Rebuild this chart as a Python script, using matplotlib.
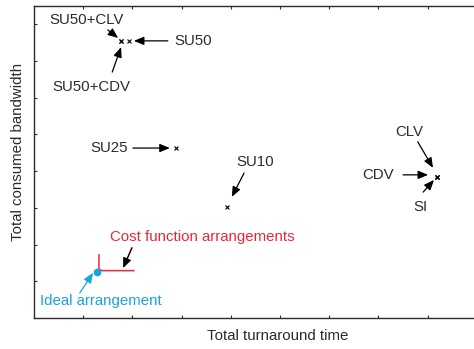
import matplotlib
matplotlib.use("Agg")
import matplotlib.pyplot as plt

plt.rcParams['font.family'] = ['Liberation Sans', 'DejaVu Sans']

# Measured arrangements (total turnaround time, total consumed bandwidth)
names = ["SU50+CLV", "SU50+CDV", "SU50", "SU25", "SU10", "CLV", "CDV", "SI"]
turnaround = [1.77, 1.77, 1.93, 2.89, 3.92, 8.19, 8.19, 8.19]
bandwidth = [7.55, 7.55, 7.55, 4.63, 3.02, 3.84, 3.84, 3.84]

# Ideal arrangement and the cost-function "L" curve
ideal_x, ideal_y = 1.28, 1.25
cost_x = [1.32, 1.32, 1.37, 2.03]
cost_y = [1.72, 1.34, 1.29, 1.29]

# label text position and arrow (tail -> tip) for each annotation
labels = ["SU50+CLV", "SU50", "SU50+CDV", "SU25", "SU10", "CLV", "CDV", "SI"]
label_xy = [(1.06, 8.12), (3.23, 7.55), (1.16, 6.29), (1.52, 4.63),
            (4.49, 4.25), (7.62, 5.07), (6.99, 3.90), (7.85, 3.02)]
arrow_tail = [(1.50, 7.85), (2.72, 7.55), (1.59, 6.70), (2.01, 4.63),
              (4.27, 3.95), (7.80, 4.80), (7.50, 3.90), (7.91, 3.43)]
arrow_tip = [(1.71, 7.63), (2.03, 7.55), (1.77, 7.38), (2.76, 4.63),
             (4.02, 3.30), (8.11, 4.09), (8.01, 3.90), (8.13, 3.76)]

red = "#e8283a"
cyan = "#1aa3e0"
grey = "#2b2b2b"
fs = 10.8
head = '-|>,head_length=0.6,head_width=0.25'

fig = plt.figure(figsize=(4.74, 3.49), dpi=100)
# axes run past the right edge, as in the cropped original
ax = fig.add_axes([34 / 474, 31 / 349, 492 / 474, 312 / 349])

ax.plot(turnaround, bandwidth, 'x', color='black', ms=3, mew=0.8)

for text, pos, tail, tip in zip(labels, label_xy, arrow_tail, arrow_tip):
    ax.text(pos[0], pos[1], text, ha='center', va='center',
            fontsize=fs, color=grey)
    ax.annotate('', xy=tip, xytext=tail,
                arrowprops=dict(arrowstyle=head, color='black', lw=0.9,
                                shrinkA=0, shrinkB=0))

# cost function arrangements
ax.plot(cost_x, cost_y, color=red, lw=1.1)
ax.text(3.43, 2.21, "Cost function arrangements", ha='center', va='center',
        fontsize=fs, color=red)
ax.annotate('', xy=(1.81, 1.36), xytext=(1.99, 1.91),
            arrowprops=dict(arrowstyle=head, color='black', lw=0.9,
                            shrinkA=0, shrinkB=0))
ax.plot([1.99, 1.88], [1.91, 1.57], color=red, lw=0.9)

# ideal arrangement
ax.plot(ideal_x, ideal_y, 'o', color=cyan, ms=4.5)
ax.text(1.36, 0.46, "Ideal arrangement", ha='center', va='center',
        fontsize=fs, color=cyan)
ax.annotate('', xy=(1.20, 1.23), xytext=(0.93, 0.68),
            arrowprops=dict(arrowstyle=head, color=cyan, lw=0.9,
                            shrinkA=0, shrinkB=0))

ax.set_xlim(0, 10)
ax.set_ylim(0, 8.5)
ax.set_xticks(range(1, 10))
ax.set_yticks(range(1, 9))
ax.tick_params(direction='in', length=2.5, width=0.8, top=True, right=True,
               labelbottom=False, labelleft=False, color=grey)
for s in ax.spines.values():
    s.set_color(grey)
    s.set_linewidth(1.0)

ax.set_xlabel("Total turnaround time", fontsize=fs, color=grey)
ax.set_ylabel("Total consumed bandwidth", fontsize=fs, color=grey)
ax.xaxis.set_label_coords(0.496, -0.035)
ax.yaxis.set_label_coords(-0.018, 0.532)

fig.savefig("out.png", dpi=100)
